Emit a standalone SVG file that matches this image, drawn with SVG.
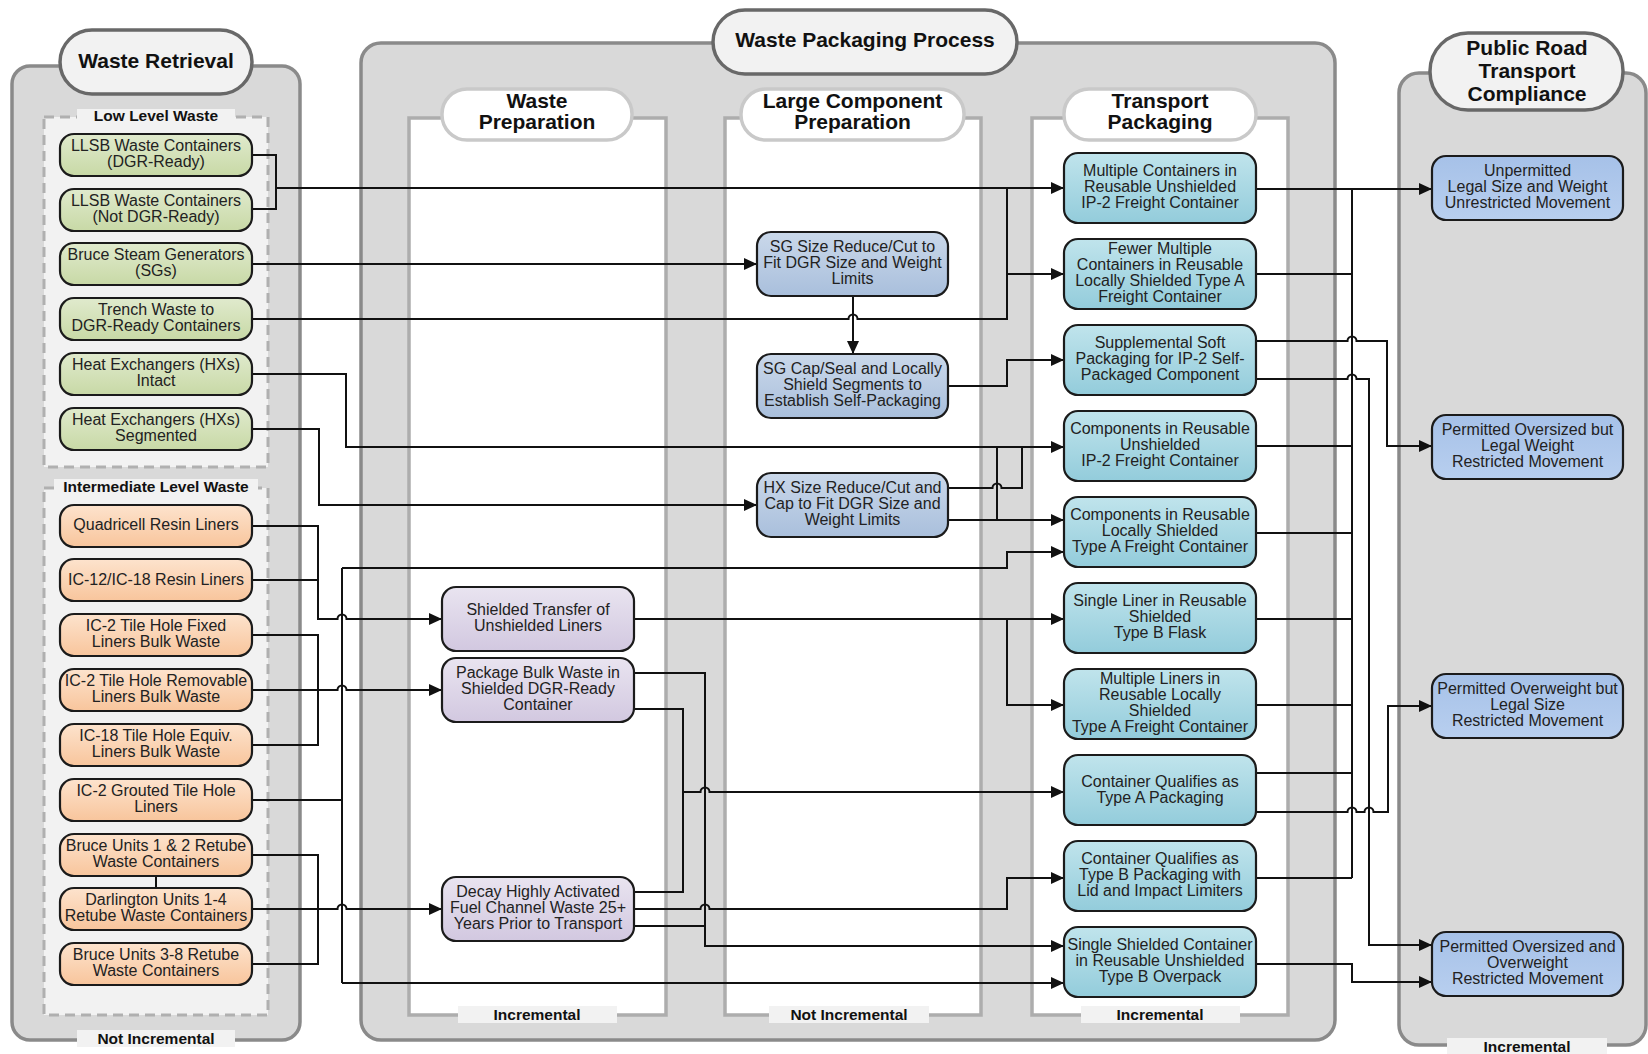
<svg xmlns="http://www.w3.org/2000/svg" width="1648" height="1054" viewBox="0 0 1648 1054">
<defs>
<linearGradient id="gG" x1="0" y1="0" x2="0" y2="1"><stop offset="0" stop-color="#e0eacd"/><stop offset="1" stop-color="#c8d9a6"/></linearGradient>
<linearGradient id="gO" x1="0" y1="0" x2="0" y2="1"><stop offset="0" stop-color="#fde3cd"/><stop offset="1" stop-color="#f8c59c"/></linearGradient>
<linearGradient id="gP" x1="0" y1="0" x2="0" y2="1"><stop offset="0" stop-color="#e9e4f0"/><stop offset="1" stop-color="#d2c8e0"/></linearGradient>
<linearGradient id="gL" x1="0" y1="0" x2="0" y2="1"><stop offset="0" stop-color="#cad8ea"/><stop offset="1" stop-color="#a9bfdc"/></linearGradient>
<linearGradient id="gT" x1="0" y1="0" x2="0" y2="1"><stop offset="0" stop-color="#c0e4ec"/><stop offset="1" stop-color="#93ccdb"/></linearGradient>
<linearGradient id="gR" x1="0" y1="0" x2="0" y2="1"><stop offset="0" stop-color="#a6c1e8"/><stop offset="1" stop-color="#b8cfef"/></linearGradient>
<marker id="ah" markerUnits="userSpaceOnUse" markerWidth="13" markerHeight="12" refX="13" refY="6" orient="auto"><path d="M0,0 L13,6 L0,12 z" fill="#111"/></marker>
</defs>
<style>
.panel{fill:#d9d9d9;stroke:#8a8a8a;stroke-width:3.5}
.title{fill:#f2f2f2;stroke:#686868;stroke-width:3.5}
.lane{fill:#fff;stroke:#adadad;stroke-width:3.5}
.lanepill{fill:#fff;stroke:#c9c9c9;stroke-width:3.5}
.grp{fill:#f2f2f2;stroke:#b0b0b0;stroke-width:3;stroke-dasharray:10 6}
.lbg{fill:#f2f2f2}
.tt{font-family:"Liberation Sans",Arial,sans-serif;font-weight:bold;font-size:21px;fill:#111;text-anchor:middle}
.sl{font-family:"Liberation Sans",Arial,sans-serif;font-weight:bold;font-size:15.5px;fill:#111;text-anchor:middle}
.nt{font-family:"Liberation Sans",Arial,sans-serif;font-size:16px;fill:#222;text-anchor:middle}
.n{stroke:#1b1b1b;stroke-width:2.2}
.c path{fill:none;stroke:#111;stroke-width:2}
.a{marker-end:url(#ah)}
</style>

<!-- Panels -->
<g id="panel-waste-retrieval">
<rect class="panel" x="12" y="66" width="288" height="974" rx="18"/>
<rect class="title" x="60" y="30" width="192" height="64" rx="32"/>
<text class="tt" x="156" y="67.5">Waste Retrieval</text>
<rect class="grp" x="44" y="117" width="224" height="350"/>
<rect class="lbg" x="77" y="109" width="158" height="17"/>
<text class="sl" x="156" y="121">Low Level Waste</text>
<rect class="grp" x="44" y="488" width="224" height="527"/>
<rect class="lbg" x="54" y="479" width="204" height="18"/>
<text class="sl" x="156" y="492">Intermediate Level Waste</text>
<rect class="lbg" x="77" y="1030" width="158" height="17"/>
<text class="sl" x="156" y="1043.5">Not Incremental</text>
</g>

<g id="panel-waste-packaging">
<rect class="panel" x="361" y="43" width="974" height="997" rx="20"/>
<rect class="title" x="713" y="10" width="304" height="64" rx="32"/>
<text class="tt" x="865" y="47">Waste Packaging Process</text>
<rect class="lane" x="409" y="118" width="257" height="897"/>
<rect class="lanepill" x="442" y="89" width="190" height="51" rx="25"/>
<text class="tt" x="537" y="108">Waste</text>
<text class="tt" x="537" y="128.5">Preparation</text>
<rect class="lbg" x="458" y="1006" width="159" height="17"/>
<text class="sl" x="537" y="1019.5">Incremental</text>
<rect class="lane" x="725" y="118" width="256" height="897"/>
<rect class="lanepill" x="741" y="89" width="223" height="51" rx="25"/>
<text class="tt" x="852.5" y="108">Large Component</text>
<text class="tt" x="852.5" y="128.5">Preparation</text>
<rect class="lbg" x="769" y="1006" width="160" height="17"/>
<text class="sl" x="849" y="1019.5">Not Incremental</text>
<rect class="lane" x="1032" y="118" width="256" height="897"/>
<rect class="lanepill" x="1064" y="89" width="192" height="51" rx="25"/>
<text class="tt" x="1160" y="108">Transport</text>
<text class="tt" x="1160" y="128.5">Packaging</text>
<rect class="lbg" x="1081" y="1006" width="159" height="17"/>
<text class="sl" x="1160" y="1019.5">Incremental</text>
</g>

<g id="panel-public-road">
<rect class="panel" x="1399" y="73" width="247" height="972" rx="20"/>
<rect class="title" x="1430" y="33" width="193" height="77" rx="38"/>
<text class="tt" x="1527" y="54.5">Public Road</text>
<text class="tt" x="1527" y="77.5">Transport</text>
<text class="tt" x="1527" y="101">Compliance</text>
<rect class="lbg" x="1447" y="1038" width="160" height="17"/>
<text class="sl" x="1527" y="1051.5">Incremental</text>
</g>

<!-- Connectors -->
<g id="connectors" class="c">
<path d="M252,155 H276 V209 H252"/>
<path class="a" d="M276,188 H1064"/>
<path d="M252,319 H848.5 a4.5,4.5 0 0 1 9,0 H1007 V188"/>
<path class="a" d="M1007,274 H1064"/>
<path class="a" d="M252,264 H757"/>
<path class="a" d="M853,296 V354"/>
<path class="a" d="M948,386 H1007 V360 H1064"/>
<path class="a" d="M252,374 H346 V447 H1064"/>
<path d="M997,447 V520"/>
<path class="a" d="M948,520 H1064"/>
<path d="M948,488 H992.5 a4.5,4.5 0 0 1 9,0 H1022 V447"/>
<path class="a" d="M252,429 H319 V505 H757"/>
<path class="a" d="M252,526 H318 V619 H337.5 a4.5,4.5 0 0 1 9,0 H442"/>
<path d="M252,580 H318"/>
<path d="M252,635 H318 V745 H252"/>
<path class="a" d="M252,690 H337.5 a4.5,4.5 0 0 1 9,0 H442"/>
<path d="M252,800 H342"/>
<path d="M342,568 V983"/>
<path class="a" d="M342,568 H1007 V552 H1064"/>
<path class="a" d="M342,983 H1064"/>
<path d="M252,855 H318 V964 H252"/>
<path class="a" d="M252,909 H337.5 a4.5,4.5 0 0 1 9,0 H442"/>
<path d="M156,876 V888"/>
<path class="a" d="M634,619 H1064"/>
<path class="a" d="M1007,619 V705 H1064"/>
<path class="a" d="M634,673 H705 V946 H1064"/>
<path d="M634,709 H683 V892 H634"/>
<path class="a" d="M683,792 H700.5 a4.5,4.5 0 0 1 9,0 H1064"/>
<path class="a" d="M634,909 H700.5 a4.5,4.5 0 0 1 9,0 H1007 V878 H1064"/>
<path d="M634,926 H705"/>
<path class="a" d="M1256,189 H1432"/>
<path d="M1352,189 V878"/>
<path d="M1256,274 H1352 M1256,446 H1352 M1256,533 H1352 M1256,619 H1352 M1256,705 H1352 M1256,773 H1352 M1256,878 H1352"/>
<path class="a" d="M1256,341 H1347.5 a4.5,4.5 0 0 1 9,0 H1387 V446 H1432"/>
<path class="a" d="M1256,379 H1347.5 a4.5,4.5 0 0 1 9,0 H1369 V945 H1432"/>
<path class="a" d="M1256,812 H1347.5 a4.5,4.5 0 0 1 9,0 H1364.5 a4.5,4.5 0 0 1 9,0 H1388 V706 H1432"/>
<path class="a" d="M1256,964 H1352 V982 H1432"/>
</g>

<!-- Waste Retrieval nodes -->
<g id="n-llsb-dgr"><rect class="n" x="60" y="134" width="192" height="42" rx="14" fill="url(#gG)"/><text class="nt"><tspan x="156" y="151">LLSB Waste Containers</tspan><tspan x="156" y="167">(DGR-Ready)</tspan></text></g>
<g id="n-llsb-notdgr"><rect class="n" x="60" y="189" width="192" height="42" rx="14" fill="url(#gG)"/><text class="nt"><tspan x="156" y="206">LLSB Waste Containers</tspan><tspan x="156" y="222">(Not DGR-Ready)</tspan></text></g>
<g id="n-bruce-sg"><rect class="n" x="60" y="243" width="192" height="42" rx="14" fill="url(#gG)"/><text class="nt"><tspan x="156" y="260">Bruce Steam Generators</tspan><tspan x="156" y="276">(SGs)</tspan></text></g>
<g id="n-trench"><rect class="n" x="60" y="298" width="192" height="42" rx="14" fill="url(#gG)"/><text class="nt"><tspan x="156" y="315">Trench Waste to</tspan><tspan x="156" y="331">DGR-Ready Containers</tspan></text></g>
<g id="n-hx-intact"><rect class="n" x="60" y="353" width="192" height="42" rx="14" fill="url(#gG)"/><text class="nt"><tspan x="156" y="370">Heat Exchangers (HXs)</tspan><tspan x="156" y="386">Intact</tspan></text></g>
<g id="n-hx-seg"><rect class="n" x="60" y="408" width="192" height="42" rx="14" fill="url(#gG)"/><text class="nt"><tspan x="156" y="425">Heat Exchangers (HXs)</tspan><tspan x="156" y="441">Segmented</tspan></text></g>

<g id="n-quadricell"><rect class="n" x="60" y="505" width="192" height="42" rx="14" fill="url(#gO)"/><text class="nt" x="156" y="530">Quadricell Resin Liners</text></g>
<g id="n-ic12"><rect class="n" x="60" y="559" width="192" height="42" rx="14" fill="url(#gO)"/><text class="nt" x="156" y="585">IC-12/IC-18 Resin Liners</text></g>
<g id="n-ic2-fixed"><rect class="n" x="60" y="614" width="192" height="42" rx="14" fill="url(#gO)"/><text class="nt"><tspan x="156" y="631">IC-2 Tile Hole Fixed</tspan><tspan x="156" y="647">Liners Bulk Waste</tspan></text></g>
<g id="n-ic2-removable"><rect class="n" x="60" y="669" width="192" height="42" rx="14" fill="url(#gO)"/><text class="nt"><tspan x="156" y="686">IC-2 Tile Hole Removable</tspan><tspan x="156" y="702">Liners Bulk Waste</tspan></text></g>
<g id="n-ic18"><rect class="n" x="60" y="724" width="192" height="42" rx="14" fill="url(#gO)"/><text class="nt"><tspan x="156" y="741">IC-18 Tile Hole Equiv.</tspan><tspan x="156" y="757">Liners Bulk Waste</tspan></text></g>
<g id="n-ic2-grouted"><rect class="n" x="60" y="779" width="192" height="42" rx="14" fill="url(#gO)"/><text class="nt"><tspan x="156" y="796">IC-2 Grouted Tile Hole</tspan><tspan x="156" y="812">Liners</tspan></text></g>
<g id="n-bruce12"><rect class="n" x="60" y="834" width="192" height="42" rx="14" fill="url(#gO)"/><text class="nt"><tspan x="156" y="851">Bruce Units 1 &amp; 2 Retube</tspan><tspan x="156" y="867">Waste Containers</tspan></text></g>
<g id="n-darlington"><rect class="n" x="60" y="888" width="192" height="42" rx="14" fill="url(#gO)"/><text class="nt"><tspan x="156" y="905">Darlington Units 1-4</tspan><tspan x="156" y="921">Retube Waste Containers</tspan></text></g>
<g id="n-bruce38"><rect class="n" x="60" y="943" width="192" height="42" rx="14" fill="url(#gO)"/><text class="nt"><tspan x="156" y="960">Bruce Units 3-8 Retube</tspan><tspan x="156" y="976">Waste Containers</tspan></text></g>

<!-- Waste Preparation nodes -->
<g id="n-shielded-transfer"><rect class="n" x="442" y="587" width="192" height="64" rx="14" fill="url(#gP)"/><text class="nt"><tspan x="538" y="615">Shielded Transfer of</tspan><tspan x="538" y="631">Unshielded Liners</tspan></text></g>
<g id="n-package-bulk"><rect class="n" x="442" y="658" width="192" height="64" rx="14" fill="url(#gP)"/><text class="nt"><tspan x="538" y="678">Package Bulk Waste in</tspan><tspan x="538" y="694">Shielded DGR-Ready</tspan><tspan x="538" y="710">Container</tspan></text></g>
<g id="n-decay"><rect class="n" x="442" y="877" width="192" height="64" rx="14" fill="url(#gP)"/><text class="nt"><tspan x="538" y="897">Decay Highly Activated</tspan><tspan x="538" y="913">Fuel Channel Waste 25+</tspan><tspan x="538" y="929">Years Prior to Transport</tspan></text></g>

<!-- Large Component Preparation nodes -->
<g id="n-sg-cut"><rect class="n" x="757" y="232" width="191" height="64" rx="14" fill="url(#gL)"/><text class="nt"><tspan x="852.5" y="252">SG Size Reduce/Cut to</tspan><tspan x="852.5" y="268">Fit DGR Size and Weight</tspan><tspan x="852.5" y="284">Limits</tspan></text></g>
<g id="n-sg-cap"><rect class="n" x="757" y="354" width="191" height="64" rx="14" fill="url(#gL)"/><text class="nt"><tspan x="852.5" y="374">SG Cap/Seal and Locally</tspan><tspan x="852.5" y="390">Shield Segments to</tspan><tspan x="852.5" y="406">Establish Self-Packaging</tspan></text></g>
<g id="n-hx-cut"><rect class="n" x="757" y="473" width="191" height="64" rx="14" fill="url(#gL)"/><text class="nt"><tspan x="852.5" y="493">HX Size Reduce/Cut and</tspan><tspan x="852.5" y="509">Cap to Fit DGR Size and</tspan><tspan x="852.5" y="525">Weight Limits</tspan></text></g>

<!-- Transport Packaging nodes -->
<g id="n-t0"><rect class="n" x="1064" y="153" width="192" height="70" rx="14" fill="url(#gT)"/><text class="nt"><tspan x="1160" y="176">Multiple Containers in</tspan><tspan x="1160" y="192">Reusable Unshielded</tspan><tspan x="1160" y="208">IP-2 Freight Container</tspan></text></g>
<g id="n-t1"><rect class="n" x="1064" y="239" width="192" height="70" rx="14" fill="url(#gT)"/><text class="nt"><tspan x="1160" y="254">Fewer Multiple</tspan><tspan x="1160" y="270">Containers in Reusable</tspan><tspan x="1160" y="286">Locally Shielded Type A</tspan><tspan x="1160" y="302">Freight Container</tspan></text></g>
<g id="n-t2"><rect class="n" x="1064" y="325" width="192" height="70" rx="14" fill="url(#gT)"/><text class="nt"><tspan x="1160" y="348">Supplemental Soft</tspan><tspan x="1160" y="364">Packaging for IP-2 Self-</tspan><tspan x="1160" y="380">Packaged Component</tspan></text></g>
<g id="n-t3"><rect class="n" x="1064" y="411" width="192" height="70" rx="14" fill="url(#gT)"/><text class="nt"><tspan x="1160" y="434">Components in Reusable</tspan><tspan x="1160" y="450">Unshielded</tspan><tspan x="1160" y="466">IP-2 Freight Container</tspan></text></g>
<g id="n-t4"><rect class="n" x="1064" y="497" width="192" height="70" rx="14" fill="url(#gT)"/><text class="nt"><tspan x="1160" y="520">Components in Reusable</tspan><tspan x="1160" y="536">Locally Shielded</tspan><tspan x="1160" y="552">Type A Freight Container</tspan></text></g>
<g id="n-t5"><rect class="n" x="1064" y="583" width="192" height="70" rx="14" fill="url(#gT)"/><text class="nt"><tspan x="1160" y="606">Single Liner in Reusable</tspan><tspan x="1160" y="622">Shielded</tspan><tspan x="1160" y="638">Type B Flask</tspan></text></g>
<g id="n-t6"><rect class="n" x="1064" y="669" width="192" height="70" rx="14" fill="url(#gT)"/><text class="nt"><tspan x="1160" y="684">Multiple Liners in</tspan><tspan x="1160" y="700">Reusable Locally</tspan><tspan x="1160" y="716">Shielded</tspan><tspan x="1160" y="732">Type A Freight Container</tspan></text></g>
<g id="n-t7"><rect class="n" x="1064" y="755" width="192" height="70" rx="14" fill="url(#gT)"/><text class="nt"><tspan x="1160" y="787">Container Qualifies as</tspan><tspan x="1160" y="803">Type A Packaging</tspan></text></g>
<g id="n-t8"><rect class="n" x="1064" y="841" width="192" height="70" rx="14" fill="url(#gT)"/><text class="nt"><tspan x="1160" y="864">Container Qualifies as</tspan><tspan x="1160" y="880">Type B Packaging with</tspan><tspan x="1160" y="896">Lid and Impact Limiters</tspan></text></g>
<g id="n-t9"><rect class="n" x="1064" y="927" width="192" height="70" rx="14" fill="url(#gT)"/><text class="nt"><tspan x="1160" y="950">Single Shielded Container</tspan><tspan x="1160" y="966">in Reusable Unshielded</tspan><tspan x="1160" y="982">Type B Overpack</tspan></text></g>

<!-- Public Road Transport Compliance nodes -->
<g id="n-r1"><rect class="n" x="1432" y="156" width="191" height="64" rx="14" fill="url(#gR)"/><text class="nt"><tspan x="1527.5" y="176">Unpermitted</tspan><tspan x="1527.5" y="192">Legal Size and Weight</tspan><tspan x="1527.5" y="208">Unrestricted Movement</tspan></text></g>
<g id="n-r2"><rect class="n" x="1432" y="415" width="191" height="64" rx="14" fill="url(#gR)"/><text class="nt"><tspan x="1527.5" y="435">Permitted Oversized but</tspan><tspan x="1527.5" y="451">Legal Weight</tspan><tspan x="1527.5" y="467">Restricted Movement</tspan></text></g>
<g id="n-r3"><rect class="n" x="1432" y="674" width="191" height="64" rx="14" fill="url(#gR)"/><text class="nt"><tspan x="1527.5" y="694">Permitted Overweight but</tspan><tspan x="1527.5" y="710">Legal Size</tspan><tspan x="1527.5" y="726">Restricted Movement</tspan></text></g>
<g id="n-r4"><rect class="n" x="1432" y="932" width="191" height="64" rx="14" fill="url(#gR)"/><text class="nt"><tspan x="1527.5" y="952">Permitted Oversized and</tspan><tspan x="1527.5" y="968">Overweight</tspan><tspan x="1527.5" y="984">Restricted Movement</tspan></text></g>
</svg>
